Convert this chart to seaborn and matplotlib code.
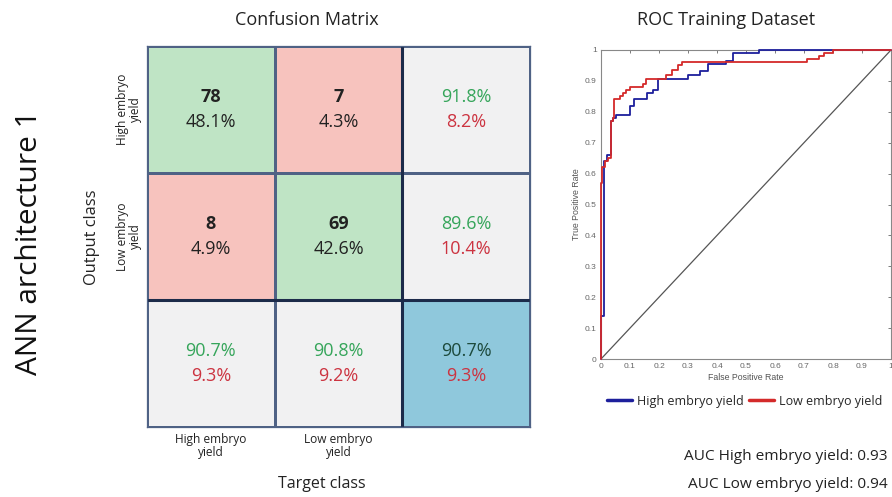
import numpy as np
import pandas as pd
import seaborn as sns
import matplotlib.pyplot as plt
from matplotlib.colors import ListedColormap
from matplotlib.lines import Line2D

# confusion matrix values (rows = output class, cols = target class)
classes = ['High embryo\nyield', 'Low embryo\nyield']
counts = [[78, 7], [8, 69]]
cell_pct = [['48.1%', '4.3%'], ['4.9%', '42.6%']]
row_ok = ['91.8%', '89.6%']
row_bad = ['8.2%', '10.4%']
col_ok = ['90.7%', '90.8%']
col_bad = ['9.3%', '9.2%']
total_ok = '90.7%'
total_bad = '9.3%'

# ROC corner points (fpr, tpr), drawn as steps
fpr_high = [0, 0, 0.012, 0.022, 0.035, 0.042, 0.05, 0.10, 0.115, 0.16, 0.18, 0.195,
            0.30, 0.34, 0.37, 0.43, 0.455, 0.545, 1.0]
tpr_high = [0, 0.14, 0.64, 0.66, 0.77, 0.78, 0.79, 0.82, 0.84, 0.86, 0.87, 0.905,
            0.918, 0.932, 0.955, 0.965, 0.99, 1.0, 1.0]
fpr_low = [0, 0, 0.005, 0.015, 0.025, 0.035, 0.04, 0.045, 0.065, 0.075, 0.085, 0.10,
           0.145, 0.155, 0.225, 0.245, 0.265, 0.28, 0.71, 0.75, 0.77, 0.80, 1.0]
tpr_low = [0, 0.57, 0.62, 0.64, 0.65, 0.77, 0.78, 0.84, 0.85, 0.86, 0.87, 0.88,
           0.89, 0.905, 0.92, 0.935, 0.95, 0.96, 0.97, 0.98, 0.99, 1.0, 1.0]
auc_high = 0.93
auc_low = 0.94

sns.set_style('white')
plt.rcParams['font.family'] = ['Open Sans', 'DejaVu Sans']

fig = plt.figure(figsize=(8.92, 4.97), dpi=100)

# ---- confusion matrix ----
ax = fig.add_axes([147 / 892, 1 - 427 / 497, 383 / 892, 381 / 497])
# 0 = correct (green), 1 = wrong (red), 2 = summary (gray), 3 = total (blue)
codes = pd.DataFrame([[0, 1, 2], [1, 0, 2], [2, 2, 3]])
cmap = ListedColormap(['#bfe4c5', '#f7c3be', '#f1f1f2', '#8fc8dc'])
sns.heatmap(codes, cmap=cmap, vmin=-0.5, vmax=3.5, cbar=False, annot=False,
            linewidths=0.9, linecolor='#4f6285', ax=ax)
ax.axvline(2, color='#1c2b4a', lw=2.2)
ax.axhline(2, color='#1c2b4a', lw=2.2)
for s in ax.spines.values():
    s.set_visible(True)
    s.set_color('#4f6285')
    s.set_linewidth(0.9)

green = '#35a55a'
red = '#cc3340'
dark = '#222222'
fs = 13
dy = 0.1
for i in range(2):
    for j in range(2):
        ax.text(j + 0.5, i + 0.5 - dy, str(counts[i][j]), ha='center', va='center',
                fontsize=fs, fontweight='bold', color=dark)
        ax.text(j + 0.5, i + 0.5 + dy, cell_pct[i][j], ha='center', va='center',
                fontsize=fs, color=dark)
    ax.text(2.5, i + 0.5 - dy, row_ok[i], ha='center', va='center', fontsize=fs, color=green)
    ax.text(2.5, i + 0.5 + dy, row_bad[i], ha='center', va='center', fontsize=fs, color=red)
    ax.text(i + 0.5, 2.5 - dy, col_ok[i], ha='center', va='center', fontsize=fs, color=green)
    ax.text(i + 0.5, 2.5 + dy, col_bad[i], ha='center', va='center', fontsize=fs, color=red)
ax.text(2.5, 2.5 - dy, total_ok, ha='center', va='center', fontsize=fs, color='#1d4a3c')
ax.text(2.5, 2.5 + dy, total_bad, ha='center', va='center', fontsize=fs, color=red)

ax.set_xticks([0.5, 1.5])
ax.set_xticklabels(classes, fontsize=8.6, color=dark, linespacing=1.05)
ax.set_yticks([0.5, 1.5])
ax.set_yticklabels(classes, fontsize=8.6, color=dark, rotation=90, va='center',
                   ha='center', linespacing=1.05)
ax.tick_params(axis='both', length=0, pad=4)
ax.tick_params(axis='y', pad=13)
ax.set_xlabel('')
ax.set_ylabel('')

fig.text(307 / 892, 1 - 20 / 497, 'Confusion Matrix', ha='center', va='center',
         fontsize=13, color=dark)
fig.text(92 / 892, 1 - 237 / 497, 'Output class', rotation=90, ha='center', va='center',
         fontsize=11.8, color=dark)
fig.text(322 / 892, 1 - 484 / 497, 'Target class', ha='center', va='center',
         fontsize=11.5, color=dark)
fig.text(30 / 892, 1 - 243 / 497, 'ANN architecture 1', rotation=90, ha='center',
         va='center', fontsize=21.5, color='#111111')

# ---- ROC ----
rx = fig.add_axes([601 / 892, 1 - 359 / 497, 290 / 892, 309 / 497])
sns.lineplot(x=[0, 1], y=[0, 1], color='#555555', lw=0.9, ax=rx)
sns.lineplot(x=fpr_high, y=tpr_high, sort=False, estimator=None, drawstyle='steps-post',
             color='#1d1f9c', lw=1.3, ax=rx, clip_on=False, zorder=4)
sns.lineplot(x=fpr_low, y=tpr_low, sort=False, estimator=None, drawstyle='steps-post',
             color='#d42a2a', lw=1.3, ax=rx, clip_on=False, zorder=5)
rx.set_xlim(0, 1)
rx.set_ylim(0, 1)
ticks = np.round(np.arange(0, 1.01, 0.1), 1)
labels = ['0'] + [f'{t:.1f}' for t in ticks[1:-1]] + ['1']
rx.set_xticks(ticks)
rx.set_xticklabels(labels, family='Liberation Sans')
rx.set_yticks(ticks)
rx.set_yticklabels(labels, family='Liberation Sans')
rx.tick_params(direction='in', length=2.5, width=0.6, labelsize=6, labelcolor='#666666',
               color='#666666', top=True, right=True, pad=3)
for s in rx.spines.values():
    s.set_color('#888888')
    s.set_linewidth(0.8)
rx.set_xlabel('False Positive Rate', fontsize=6.3, color='#555555', family='Liberation Sans',
              labelpad=2)
rx.set_ylabel('True Positive Rate', fontsize=6.3, color='#555555', family='Liberation Sans',
              labelpad=3)
fig.text(726 / 892, 1 - 20 / 497, 'ROC Training Dataset', ha='center', va='center',
         fontsize=13, color=dark)

handles = [Line2D([0], [0], color='#1d1f9c', lw=2.5),
           Line2D([0], [0], color='#d42a2a', lw=2.5)]
fig.legend(handles, ['High embryo yield', 'Low embryo yield'], loc='center',
           bbox_to_anchor=(745 / 892, 1 - 401 / 497), ncol=2, frameon=False,
           fontsize=9, handlelength=2.0, handletextpad=0.4, columnspacing=0.4)

fig.text(888 / 892, 1 - 457 / 497, f'AUC High embryo yield: {auc_high:.2f}', ha='right',
         va='center', fontsize=11.1, color=dark)
fig.text(888 / 892, 1 - 485 / 497, f'AUC Low embryo yield: {auc_low:.2f}', ha='right',
         va='center', fontsize=11.1, color=dark)

fig.savefig('out.png', dpi=100)
